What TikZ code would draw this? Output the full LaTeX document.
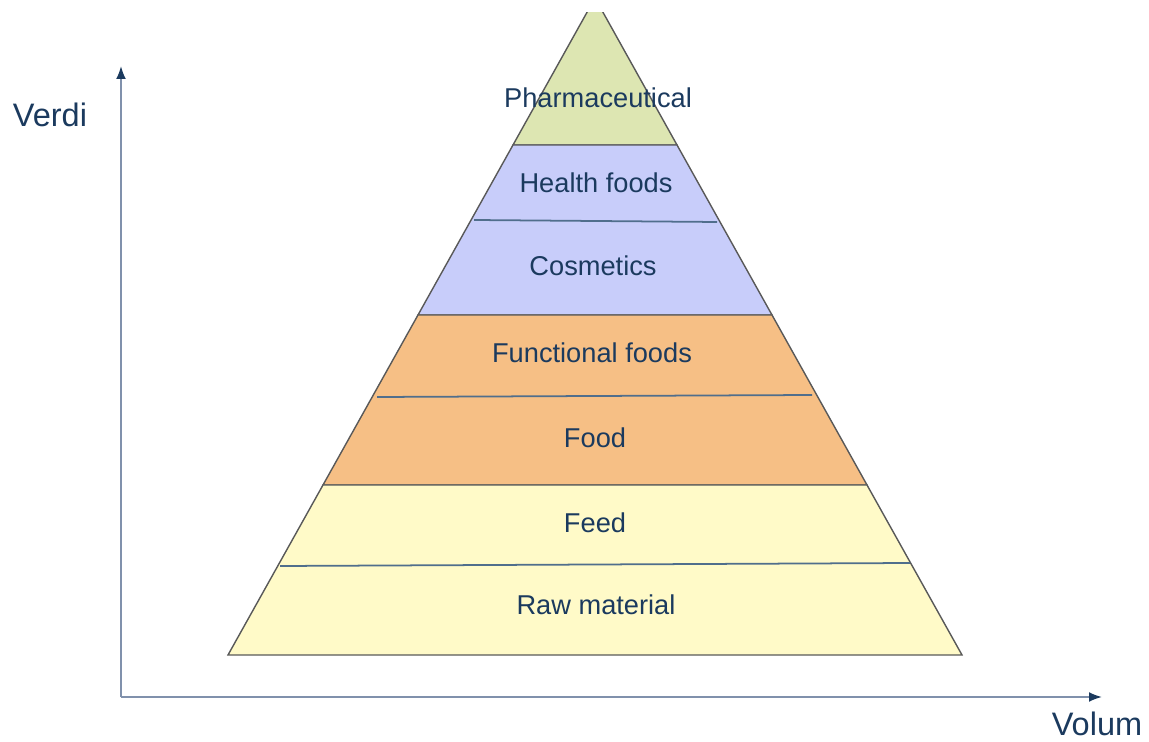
\documentclass[tikz,border=0pt]{standalone}
\usepackage{fontspec}
\setmainfont{Liberation Sans}
\usetikzlibrary{arrows.meta}
\definecolor{toplayer}{RGB}{221,230,178}
\definecolor{bluelayer}{RGB}{200,205,250}
\definecolor{orangelayer}{RGB}{246,191,133}
\definecolor{yellowlayer}{RGB}{255,250,200}
\definecolor{labelblue}{RGB}{27,58,94}
\definecolor{splitblue}{RGB}{80,110,140}
\definecolor{axisgray}{RGB}{128,145,172}
\begin{document}
\begin{tikzpicture}[x=0.02cm, y=-0.02cm,
    layer/.style={draw=black!65, line width=0.8pt, fill=#1},
    split/.style={draw=splitblue, line width=1pt},
    layer label/.style={text=labelblue, font=\fontsize{15.5}{18}\selectfont},
    axis label/.style={text=labelblue, font=\fontsize{18.5}{22}\selectfont},
    axis/.style={draw=axisgray, line width=1.1pt, -{Latex[length=0.26cm, width=0.2cm, color=labelblue]}}
]
\useasboundingbox (0,0) rectangle (1149,742);

% Pyramid layers (tip cut off at the top)
\begin{scope}
\clip (0,13) rectangle (1149,742);
\filldraw[layer=toplayer] (595,-2) -- (677,145) -- (513,145) -- cycle;
\end{scope}
\filldraw[layer=bluelayer] (513,145) -- (677,145) -- (772,315) -- (418,315) -- cycle;
\filldraw[layer=orangelayer] (418,315) -- (772,315) -- (867,485) -- (323,485) -- cycle;
\filldraw[layer=yellowlayer] (323,485) -- (867,485) -- (962,655) -- (228,655) -- cycle;

\draw[split] (474,220) -- (717,222);
\draw[split] (377,397) -- (812,395);
\draw[split] (280,566) -- (910,563);

\node [layer label] (pharma) at (598,98) {Pharmaceutical};
\node [layer label] (health) at (596,183) {Health foods};
\node [layer label] (cosmetics) at (593,266) {Cosmetics};
\node [layer label] (functional) at (592,353) {Functional foods};
\node [layer label] (food) at (595,438) {Food};
\node [layer label] (feed) at (595,523) {Feed};
\node [layer label] (raw) at (596,605) {Raw material};

% Axes
\coordinate (origin) at (121,697);
\coordinate (ytop) at (121,66);
\coordinate (xend) at (1102,697);
\draw[axis] (origin) -- (ytop);
\draw[axis] (origin) -- (xend);

\node [axis label] (verdi) at (50,115) {Verdi};
\node [axis label] (volum) at (1097,724) {Volum};

\end{tikzpicture}
\end{document}
